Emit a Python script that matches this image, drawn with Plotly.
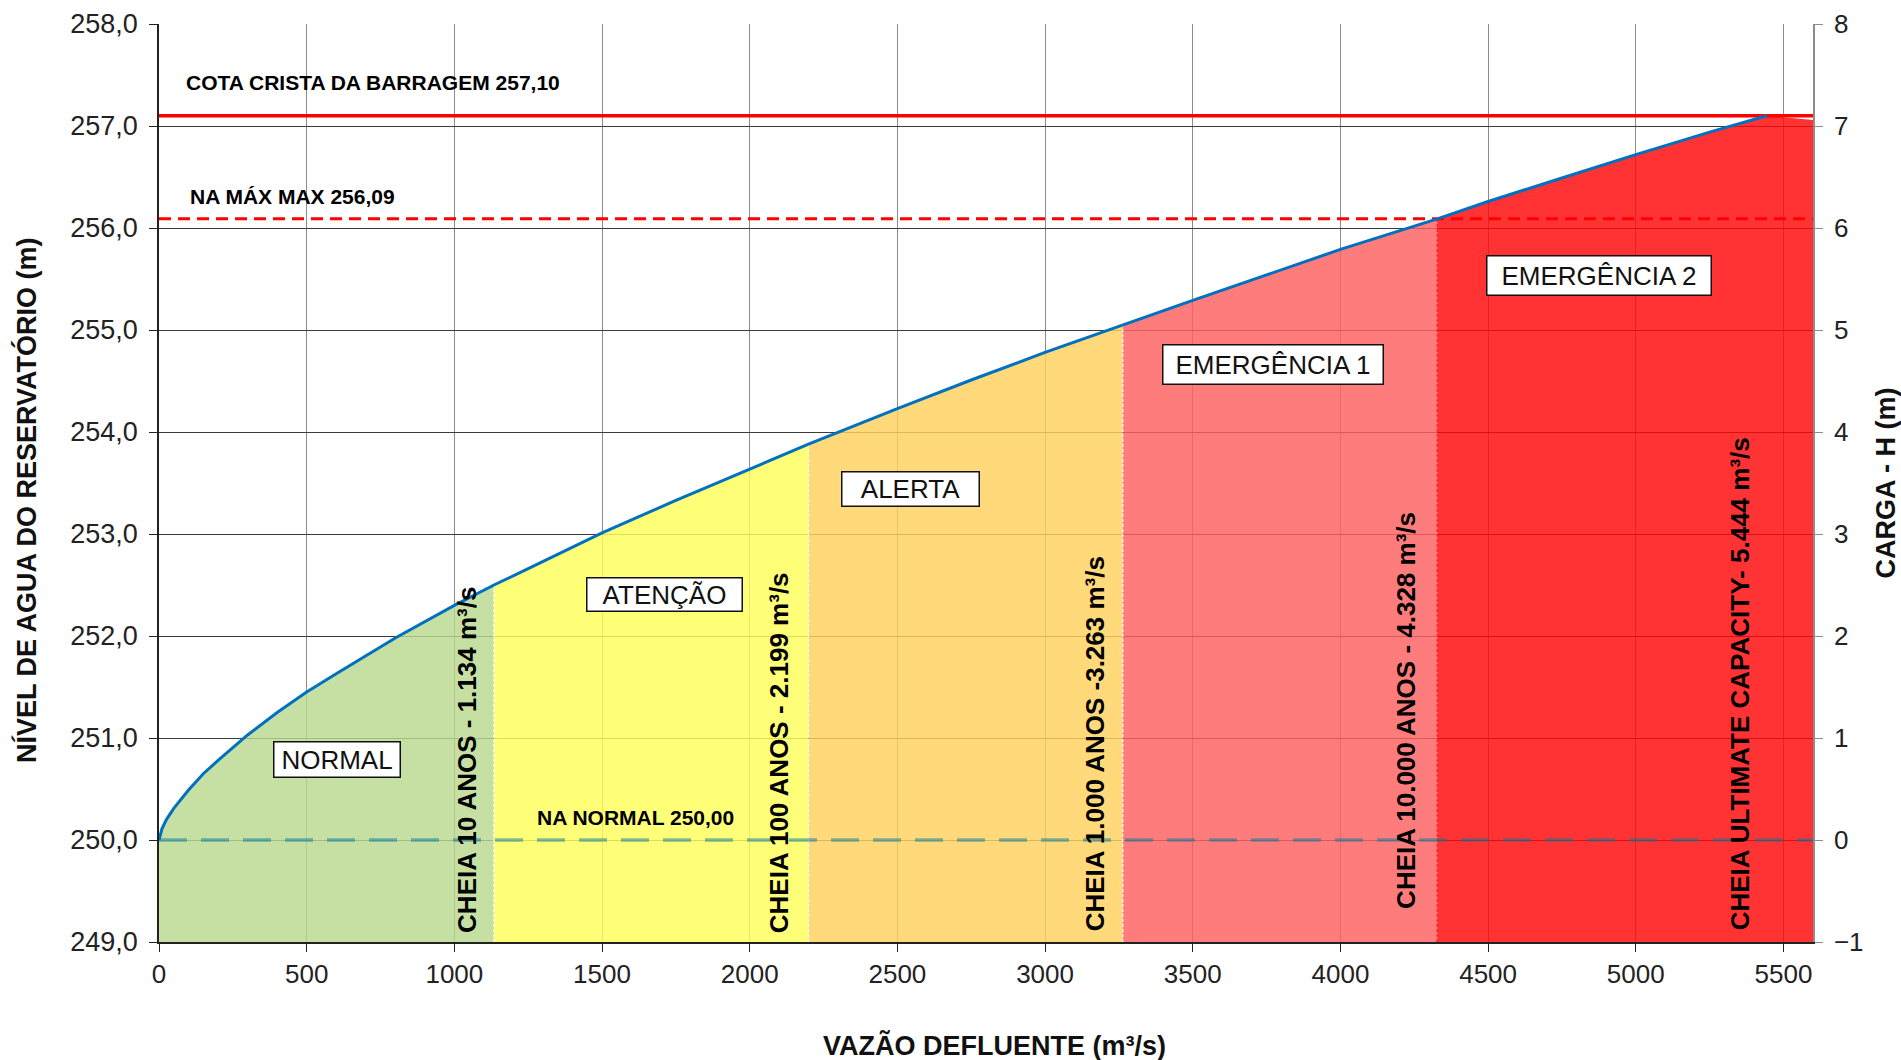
import plotly.graph_objects as go

# curva de descarga: vazão defluente (m³/s) x nível d'água (m)
vazao = [0, 10, 25, 50, 100, 150, 200, 300, 400, 500, 600, 800, 1000, 1134,
         1250, 1500, 1750, 2000, 2199, 2500, 2750, 3000, 3263, 3500, 3750,
         4000, 4328, 4500, 4750, 5000, 5250, 5444]
nivel = [250.00, 250.11, 250.20, 250.31, 250.49, 250.65, 250.78, 251.03, 251.25,
         251.45, 251.63, 251.98, 252.30, 252.50, 252.66, 253.01, 253.33, 253.64,
         253.88, 254.23, 254.51, 254.78, 255.05, 255.29, 255.54, 255.79, 256.09,
         256.26, 256.49, 256.72, 256.94, 257.10]

# nível no fim da faixa vermelha (x = 5600)
nivel_fim = 257.06
fundo = 249.0

zonas = ["NORMAL", "ATENÇÃO", "ALERTA", "EMERGÊNCIA 1", "EMERGÊNCIA 2"]
limites = [0, 1134, 2199, 3263, 4328, 5600]

cheias = ["CHEIA 10 ANOS - 1.134 m³/s", "CHEIA 100 ANOS - 2.199 m³/s",
          "CHEIA 1.000 ANOS -3.263 m³/s", "CHEIA 10.000 ANOS - 4.328 m³/s",
          "CHEIA ULTIMATE CAPACITY- 5.444 m³/s"]
cheias_x = [1134, 2199, 3263, 4328, 5444]

cota_crista = 257.10
na_max_max = 256.09
na_normal = 250.00

# estilos
cores = ["rgba(185,217,144,0.82)", "rgba(255,255,90,0.82)", "rgba(255,209,93,0.82)",
         "rgba(255,95,95,0.82)", "rgba(255,6,6,0.82)"]
FONT = "Arial, Liberation Sans, sans-serif"

fig = go.Figure()

# faixas coloridas sob a curva
for i, nome in enumerate(zonas):
    a, b = limites[i], limites[i + 1]
    xs = [q for q in vazao if a <= q <= b]
    ys = [h for q, h in zip(vazao, nivel) if a <= q <= b]
    if b > vazao[-1]:
        xs.append(b)
        ys.append(nivel_fim)
    fig.add_trace(go.Scatter(
        x=[a] + xs + [b], y=[fundo] + ys + [fundo],
        fill="toself", fillcolor=cores[i], mode="none",
        hoverinfo="skip", showlegend=False))

# divisões entre faixas
for i, q in enumerate(limites[1:-1]):
    h = nivel[vazao.index(q)]
    fig.add_trace(go.Scatter(
        x=[q, q], y=[fundo, h], mode="lines",
        line=dict(color="white" if i < 3 else "#ff1a1a", width=1.2, dash="3px,2px"),
        hoverinfo="skip", showlegend=False))

# NA normal
fig.add_trace(go.Scatter(
    x=[limites[0], limites[-1]], y=[na_normal, na_normal], mode="lines",
    line=dict(color="rgba(0,120,160,0.5)", width=3.5, dash="28px,14px"),
    hoverinfo="skip", showlegend=False))

# NA máx max e crista
fig.add_trace(go.Scatter(
    x=[limites[0], limites[-1]], y=[na_max_max, na_max_max], mode="lines",
    line=dict(color="#ff0000", width=3, dash="12px,7px"),
    hoverinfo="skip", showlegend=False))
fig.add_trace(go.Scatter(
    x=[limites[0], limites[-1]], y=[cota_crista, cota_crista], mode="lines",
    line=dict(color="#ff0000", width=3.5),
    hoverinfo="skip", showlegend=False))

# curva de descarga
fig.add_trace(go.Scatter(
    x=vazao, y=nivel, mode="lines",
    line=dict(color="#0070c0", width=3), showlegend=False))

# eixo secundário (carga H)
fig.add_trace(go.Scatter(
    x=[vazao[0]], y=[nivel[0] - na_normal], yaxis="y2", mode="markers",
    marker=dict(opacity=0), hoverinfo="skip", showlegend=False))

# rótulos das faixas
pos_zonas = [(603, 250.79, 127, 36), (1713, 252.41, 156, 34), (2543, 253.44, 138, 35),
             (3771, 254.66, 221, 40), (4875, 255.53, 225, 40)]
for nome, (x, y, w, h) in zip(zonas, pos_zonas):
    fig.add_annotation(x=x, y=y, text=nome, showarrow=False,
                       font=dict(family=FONT, size=26, color="#111"),
                       bgcolor="white", bordercolor="#111", borderwidth=1.5,
                       width=w - 4, height=h - 4, borderpad=1)

# rótulos verticais das cheias
desloc = [-91, -97, -94, -106, -91]
base_y = [249.07, 249.07, 249.09, 249.30, 249.09]
for txt, q, dx, by in zip(cheias, cheias_x, desloc, base_y):
    fig.add_annotation(x=q + dx, y=by, text=txt, textangle=-90, showarrow=False,
                       xanchor="center", yanchor="bottom",
                       font=dict(family=FONT, size=26, color="#000", weight="bold"))

# rótulos das cotas
for txt, x, y in [("COTA CRISTA DA BARRAGEM 257,10", 85, 257.43),
                  ("NA MÁX MAX 256,09", 98, 256.31),
                  ("NA NORMAL 250,00", 1273, 250.22)]:
    fig.add_annotation(x=x, y=y, text=txt, showarrow=False, xanchor="left",
                       font=dict(family=FONT, size=21, color="#000", weight="bold"))

# títulos dos eixos principais
fig.add_annotation(xref="paper", yref="paper", x=-0.08, y=0.481,
                   text="NÍVEL DE AGUA DO RESERVATÓRIO (m)", textangle=-90,
                   showarrow=False, xanchor="center", yanchor="middle",
                   font=dict(family=FONT, size=27, color="#111", weight="bold"))
fig.add_annotation(xref="paper", yref="paper", x=0.5054, y=-0.1125,
                   text="VAZÃO DEFLUENTE (m³/s)",
                   showarrow=False, xanchor="center", yanchor="middle",
                   font=dict(family=FONT, size=27, color="#111", weight="bold"))

fig.update_layout(
    width=1901, height=1060,
    margin=dict(l=159, r=88, t=24, b=118),
    paper_bgcolor="white", plot_bgcolor="white",
    separators=",.",
    font=dict(family=FONT, color="#222"),
    xaxis=dict(
        range=[0, 5600], tick0=0, dtick=500, tickformat="d",
        showgrid=True, gridcolor="#8c8c8c", gridwidth=1,
        showline=True, linecolor="#222", linewidth=1.5,
        ticks="outside", ticklen=8, tickcolor="#222",
        tickfont=dict(size=26, color="#222"), zeroline=False, automargin=False,
    ),
    yaxis=dict(
        range=[249, 258], tick0=249, dtick=1, tickformat=".1f",
        showgrid=True, gridcolor="#3c3c3c", gridwidth=1,
        showline=True, linecolor="#222", linewidth=1.5,
        ticks="outside", ticklen=8, tickcolor="#222", ticklabelstandoff=6,
        tickfont=dict(size=27, color="#222"), zeroline=False, automargin=False,
    ),
    yaxis2=dict(
        range=[-1, 8], tick0=-1, dtick=1, overlaying="y", side="right",
        showgrid=False, zeroline=False, automargin=False,
        showline=True, linecolor="#8c8c8c", linewidth=1.5,
        ticks="outside", ticklen=8, tickcolor="#8c8c8c", ticklabelstandoff=6,
        tickfont=dict(size=26, color="#222"),
        title=dict(text="CARGA - H (m)", standoff=14,
                   font=dict(size=27, color="#111", weight="bold")),
    ),
)

fig.write_html("out.html", config={"displayModeBar": False},
               post_script="document.body.style.margin='0';")
